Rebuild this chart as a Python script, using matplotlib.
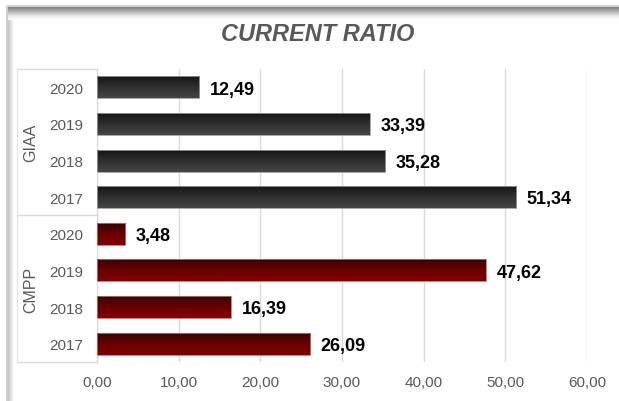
import numpy as np
import matplotlib.pyplot as plt
from matplotlib.colors import LinearSegmentedColormap
from matplotlib.patches import Rectangle
import matplotlib.transforms as mtrans

plt.rcParams['font.family'] = ['Liberation Sans', 'DejaVu Sans']

years = ['2020', '2019', '2018', '2017']
groups = ['GIAA', 'CMPP']
giaa = [12.49, 33.39, 35.28, 51.34]
cmpp = [3.48, 47.62, 16.39, 26.09]
values = giaa + cmpp
labels = years + years

W, H = 619, 402
fig = plt.figure(figsize=(W / 100, H / 100), dpi=100)

# background frame with inner shadow (pixel coordinates)
bg = fig.add_axes([0, 0, 1, 1], zorder=-5)
bg.set_xlim(0, W)
bg.set_ylim(H, 0)
bg.axis('off')
bg.add_patch(Rectangle((6.5, 6.5), W, H, fill=False, edgecolor='#d0d0d0', linewidth=1.5))
top_sh = LinearSegmentedColormap.from_list('t', ['#7e7e7e', '#b0b0b0', '#e6e6e6', '#ffffff'])
left_sh = LinearSegmentedColormap.from_list('l', ['#c4c4c4', '#e0e0e0', '#ffffff'])
ramp = np.linspace(0, 1, 32)
bg.imshow(ramp.reshape(-1, 1), cmap=top_sh, extent=(8, W, 21, 8), aspect='auto',
          interpolation='bilinear')
bg.imshow(ramp.reshape(1, -1), cmap=left_sh, extent=(8, 14, H, 21), aspect='auto',
          interpolation='bilinear')
bg.set_xlim(0, W)
bg.set_ylim(H, 0)

ax = fig.add_axes([0.1567, 0.097, 0.7916, 0.729])
ax.set_facecolor('none')

cmaps = {
    'GIAA': LinearSegmentedColormap.from_list('g', ['#161616', '#303030', '#454545']),
    'CMPP': LinearSegmentedColormap.from_list('c', ['#3a0000', '#6a0000', '#820000']),
}
edges = {'GIAA': '#9a9a9a', 'CMPP': '#c07070'}
grad = np.linspace(0, 1, 64).reshape(-1, 1)

h = 0.6
for i, v in enumerate(values):
    g = groups[i // 4]
    ax.imshow(grad, cmap=cmaps[g], aspect='auto', extent=(0, v, i + h / 2, i - h / 2),
              origin='upper', zorder=3, interpolation='bilinear')
    ax.add_patch(Rectangle((0, i - h / 2), v, h, fill=False, edgecolor=edges[g],
                           linewidth=0.6, zorder=4))
    ax.text(v + 1.3, i + 0.05, f'{v:.2f}'.replace('.', ','), va='center', ha='left',
            fontsize=13, fontweight='bold', color='black')

ax.set_xlim(0, 60)
ax.set_ylim(7.5, -0.5)
ax.set_xticks(np.arange(0, 61, 10))
ax.set_xticklabels([f'{t:.2f}'.replace('.', ',') for t in range(0, 61, 10)])
ax.set_yticks(range(8))
ax.set_yticklabels(labels)
ax.tick_params(axis='both', length=0, labelsize=11, colors='#595959')
ax.tick_params(axis='y', pad=10)
ax.tick_params(axis='x', pad=9)
ax.grid(axis='x', color='#d9d9d9', linewidth=1, zorder=0)
ax.set_axisbelow(True)
for s in ['top', 'right', 'bottom']:
    ax.spines[s].set_visible(False)
ax.spines['left'].set_color('#d9d9d9')

# grouped category axis lines
tr = mtrans.blended_transform_factory(fig.transFigure, ax.transData)
x0, x1 = 0.027, 0.1567
for y in [-0.5, 3.5, 7.5]:
    ax.plot([x0, x1], [y, y], transform=tr, color='#d9d9d9', linewidth=1, clip_on=False)
ax.plot([x0, x0], [-0.5, 7.5], transform=tr, color='#e6e6e6', linewidth=1, clip_on=False)
for k, g in enumerate(groups):
    ax.text(0.05, 1.5 + 4 * k, g, transform=tr, rotation=90, ha='center', va='center',
            fontsize=11.5, color='#595959')

fig.text(0.514, 0.915, 'CURRENT RATIO', ha='center', va='center', fontsize=17,
         fontweight='bold', fontstyle='italic', color='#595959')

fig.savefig('out.png', dpi=100)
